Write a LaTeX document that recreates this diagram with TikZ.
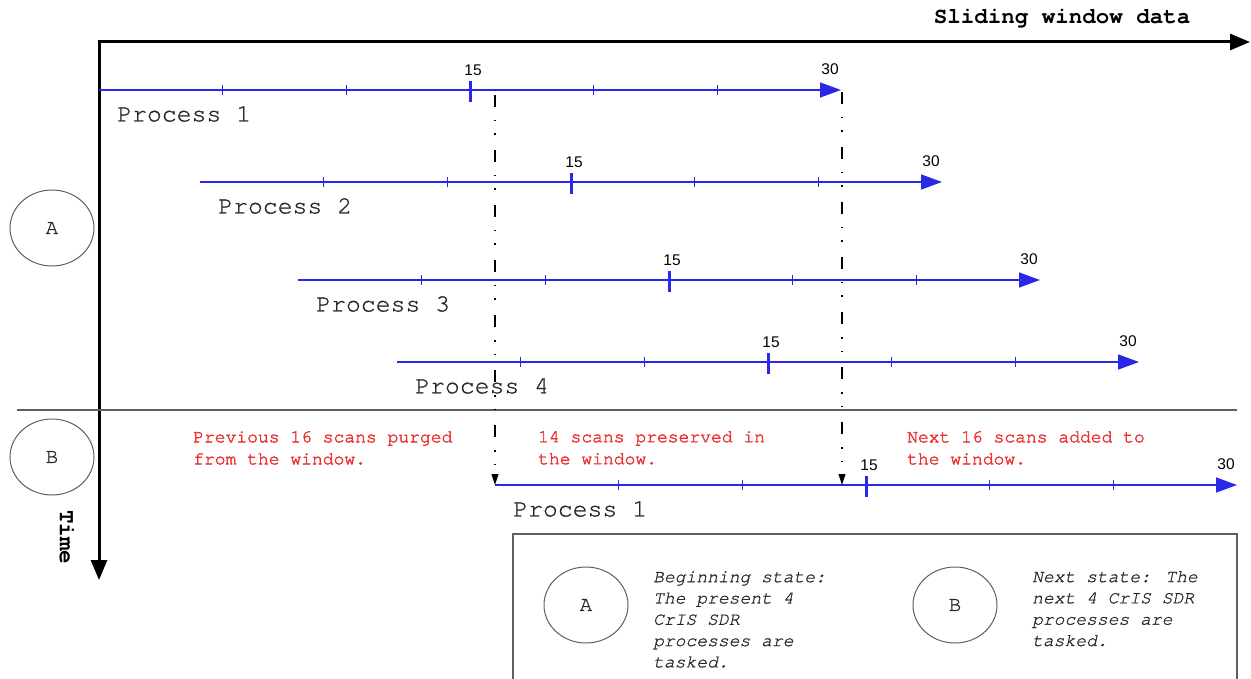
\documentclass[tikz,border=0pt]{standalone}
\usepackage{fontspec}
\setmonofont{TeX Gyre Cursor}
\newfontfamily\courmed{TeX Gyre Cursor}[FakeBold=0.9]
\newfontfamily\courred{TeX Gyre Cursor}[FakeBold=2.2]
\newfontfamily\labfont{Liberation Sans}
\usetikzlibrary{arrows.meta,shapes.geometric}
\definecolor{procblue}{RGB}{40,40,230}
\definecolor{notered}{RGB}{236,50,50}
\definecolor{linegray}{RGB}{95,95,95}
\definecolor{txtgray}{RGB}{40,40,40}
\tikzset{
  proc/.style={draw=procblue, line width=1.4pt, -{Triangle[length=21pt,width=15pt]}},
  mintick/.style={draw=procblue, line width=1.1pt},
  majtick/.style={draw=procblue, line width=3pt},
  ticklab/.style={font=\labfont\fontsize{15.5}{16}\selectfont, text=black, inner sep=0pt},
  proclab/.style={font=\courmed\fontsize{24.8}{26}\selectfont, text=txtgray, anchor=west, inner sep=0pt},
  axisline/.style={draw=black, line width=3pt, -{Triangle[length=20pt,width=16pt]}},
  dashdot/.style={draw=black, line width=1.1pt, dash pattern=on 12pt off 13pt on 1.5pt off 12pt on 1.5pt off 15pt},
  droparrow/.style={dashdot, -{Triangle[length=11pt,width=7pt]}},
  note/.style={font=\courred\fontsize{18}{22}\selectfont, text=notered, anchor=north west, inner sep=0pt, align=left},
  legtext/.style={font=\courmed\itshape\fontsize{18}{21.3}\selectfont, text=txtgray, anchor=north west, inner sep=0pt, align=left},
  statecirc/.style={draw=linegray, line width=1pt, ellipse, minimum width=84pt, minimum height=76pt, font=\courmed\fontsize{21}{22}\selectfont, text=txtgray, inner sep=0pt},
}
\newcommand\procline[4]{% x0, y, name, label
  \coordinate (#3s) at (#1,#2);
  \coordinate (#3e) at (#1+742,#2);
  \draw[proc] (#3s) -- (#3e);
  \foreach \k in {1,2,4,5} {\draw[mintick] (#1+123.7*\k,#2-5) -- (#1+123.7*\k,#2+5);}
  \draw[majtick] (#1+371,#2-9) -- (#1+371,#2+12);
  \node[ticklab] (#3t15) at (#1+374,#2-20) {15};
  \node[ticklab] (#3t30) at (#1+731,#2-21) {30};
  \node[proclab] (#3lab) at (#1+18,#2+24) {#4};
}
\begin{document}
\begin{tikzpicture}[x=1pt,y=-1pt]
\useasboundingbox (0,0) rectangle (1251,679);
% axes
\coordinate (orig) at (99,42);
\coordinate (xend) at (1250,42);
\coordinate (yend) at (99,580);
\draw[axisline] (97.5,42) -- (xend);
\draw[axisline] (orig) -- (yend);
\node[font=\ttfamily\bfseries\fontsize{22.5}{24}\selectfont, inner sep=0pt] (xlab) at (1062,19) {Sliding window data};
\node[font=\ttfamily\bfseries\fontsize{22.5}{24}\selectfont, inner sep=0pt, rotate=-90] (ylab) at (67,537) {Time};
% divider
\coordinate (divl) at (17,410);
\coordinate (divr) at (1237,410);
\draw[draw=linegray, line width=1.4pt] (divl) -- (divr);
% state circles
\node[statecirc] (cA) at (52,228) {A};
\node[statecirc] (cB) at (52,457) {B};
% process lines
\procline{99}{90}{pa}{Process 1}
\procline{200}{182}{pb}{Process 2}
\procline{298}{280}{pc}{Process 3}
\procline{397}{362}{pd}{Process 4}
\procline{495}{485}{pe}{Process 1}
% dash-dot drop lines
\coordinate (d1top) at (495,95);
\coordinate (d1bot) at (495,485);
\coordinate (d2top) at (842,92);
\coordinate (d2bot) at (842,485);
\draw[droparrow] (d1top) -- (d1bot);
\draw[droparrow] (d2top) -- (d2bot);
% red notes
\node[note] (n1) at (193,431) {Previous 16 scans purged\\from the window.};
\node[note] (n2) at (538,431) {14 scans preserved in\\the window.};
\node[note] (n3) at (907,431) {Next 16 scans added to\\the window.};
% legend
\coordinate (lgbl) at (513,679);
\coordinate (lgtl) at (513,534);
\coordinate (lgtr) at (1237,534);
\coordinate (lgbr) at (1237,679);
\draw[draw=linegray, line width=1.4pt] (lgbl) -- (lgtl) -- (lgtr) -- (lgbr);
\node[statecirc] (lA) at (586,605) {A};
\node[statecirc] (lB) at (955,605) {B};
\node[legtext] (tA) at (653,571) {Beginning state:\\The present 4\\CrIS SDR\\processes are\\tasked.};
\node[legtext] (tB) at (1032,571) {Next state: The\\next 4 CrIS SDR\\processes are\\tasked.};
\end{tikzpicture}
\end{document}
